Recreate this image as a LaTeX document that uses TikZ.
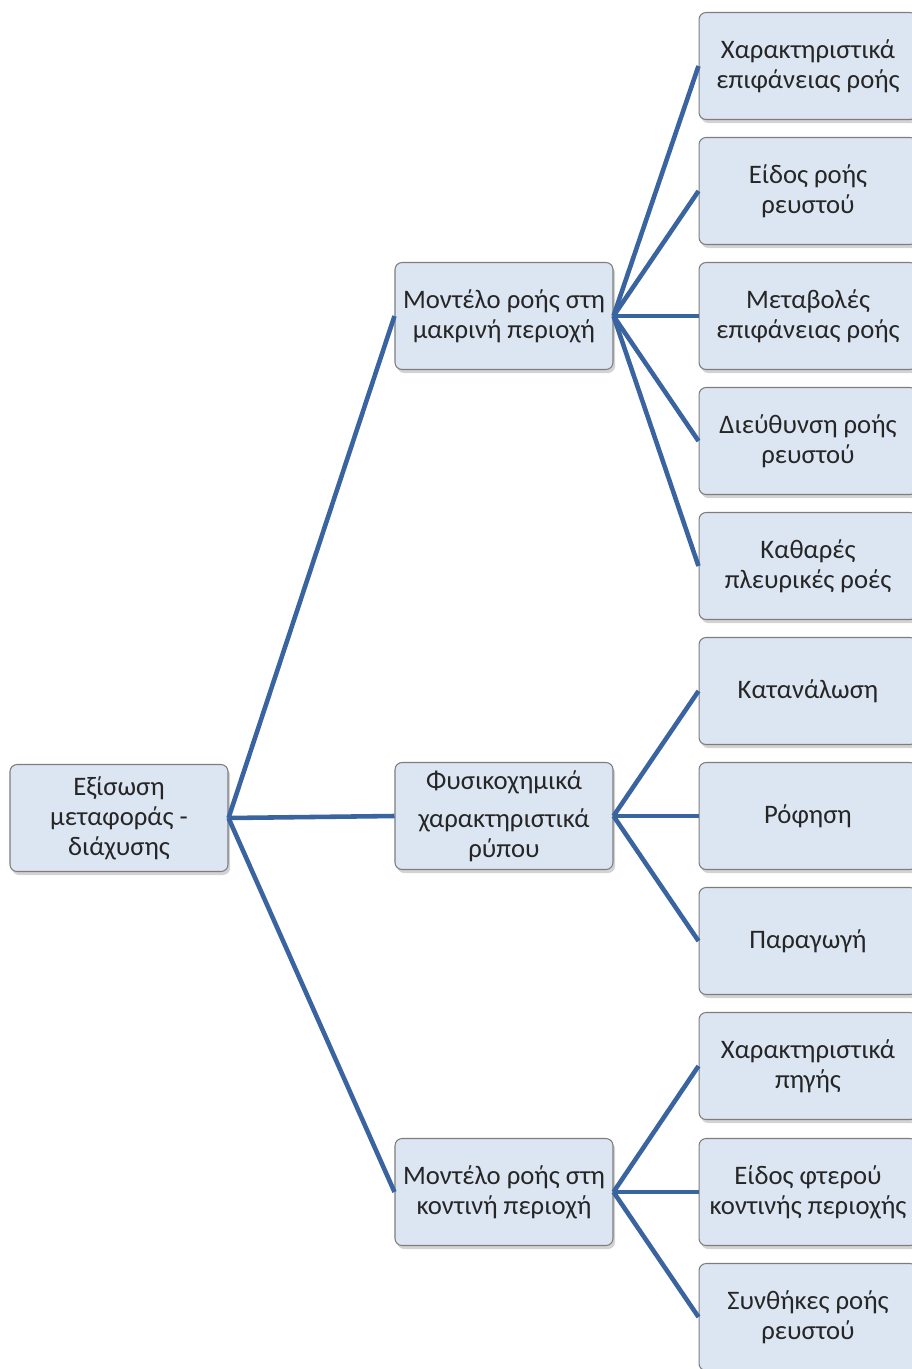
\documentclass[tikz,border=0pt]{standalone}
\usepackage{fontspec}
\setmainfont{Carlito}
\usetikzlibrary{shadows}

\definecolor{boxfill}{RGB}{220,230,242}
\definecolor{boxline}{RGB}{125,125,125}
\definecolor{linkblue}{RGB}{58,100,160}
\definecolor{txt}{RGB}{38,38,38}

\begin{document}
\begin{tikzpicture}[x=0.02cm,y=-0.02cm,
  box/.style={draw=boxline,line width=0.6pt,fill=boxfill,rounded corners=4pt,
    minimum width=4.36cm,minimum height=2.14cm,align=center,inner sep=2pt,
    text=txt,font=\fontsize{15.2}{17}\selectfont,
    drop shadow={shadow xshift=1.2pt,shadow yshift=-2pt,opacity=0.35}},
  link/.style={draw=linkblue,line width=2.6pt}]

\path[use as bounding box,clip] (0,0) rectangle (912,1369);

\node[box] (e) at (119,818) {Εξίσωση\\μεταφοράς -\\διάχυσης};

\node[box] (far) at (504,316) {Μοντέλο ροής στη\\μακρινή περιοχή};

\node[box] (phys) at (504,816) {Φυσικοχημικά\\[5pt]χαρακτηριστικά\\ρύπου};

\node[box] (near) at (504,1192) {Μοντέλο ροής στη\\κοντινή περιοχή};

\node[box] (f1) at (808,66) {Χαρακτηριστικά\\επιφάνειας ροής};
\node[box] (f2) at (808,191) {Είδος ροής\\ρευστού};
\node[box] (f3) at (808,316) {Μεταβολές\\επιφάνειας ροής};
\node[box] (f4) at (808,441) {Διεύθυνση ροής\\ρευστού};
\node[box] (f5) at (808,566) {Καθαρές\\πλευρικές ροές};

\node[box] (p1) at (808,691) {Κατανάλωση};
\node[box] (p2) at (808,816) {Ρόφηση};
\node[box] (p3) at (808,941) {Παραγωγή};

\node[box] (n1) at (808,1066) {Χαρακτηριστικά\\πηγής};
\node[box] (n2) at (808,1192) {Είδος φτερού\\κοντινής περιοχής};
\node[box] (n3) at (808,1317) {Συνθήκες ροής\\ρευστού};

\draw[link] (e.east) -- (far.west);
\draw[link] (e.east) -- (phys.west);
\draw[link] (e.east) -- (near.west);

\foreach \b in {f1,f2,f3,f4,f5}
  \draw[link] (far.east) -- (\b.west);
\foreach \b in {p1,p2,p3}
  \draw[link] (phys.east) -- (\b.west);
\foreach \b in {n1,n2,n3}
  \draw[link] (near.east) -- (\b.west);

\end{tikzpicture}
\end{document}
